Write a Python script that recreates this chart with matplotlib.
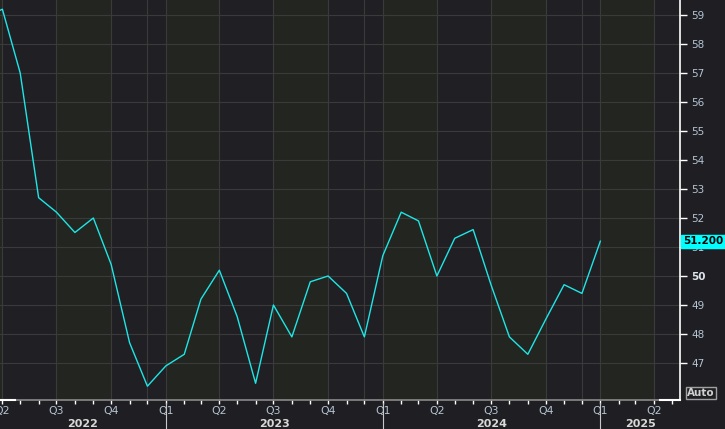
#!/usr/bin/env python3

import matplotlib
matplotlib.use("Agg")
import matplotlib.pyplot as plt
import matplotlib.dates as mdates
import matplotlib.transforms as mtransforms
from matplotlib.patches import Rectangle
import pandas as pd

# monthly readings, Mar 2022 .. Jan 2025
MONTHS = pd.date_range("2022-03-01", "2025-01-01", freq="MS")
VALUES = [58.9, 59.2, 57.0, 52.7, 52.2, 51.5, 52.0, 50.4, 47.7, 46.2,
          46.9, 47.3, 49.2, 50.2, 48.6, 46.3, 49.0, 47.9, 49.8, 50.0,
          49.4, 47.9, 50.7, 52.2, 51.9, 50.0, 51.3, 51.6, 49.7, 47.9,
          47.3, 48.5, 49.7, 49.4, 51.2]
LAST_LABEL = "51.200"
Y_TICKS = list(range(47, 60))
YEARS = [2022, 2023, 2024, 2025]

BG_DARK = "#201f23"
BG_GREEN = "#222520"
GRID = "#3a3a3a"
LINE = "#1ee6e6"
TICK_TXT = "#b4c4d4"

W, H = 725, 429
fig = plt.figure(figsize=(W / 100, H / 100), dpi=100)
fig.patch.set_facecolor("#1f1e22")
ax = fig.add_axes([0, 29 / H, 680 / W, 400 / H])
ax.set_facecolor(BG_DARK)

x0 = mdates.date2num(pd.Timestamp("2022-03-28"))
x1 = mdates.date2num(pd.Timestamp("2025-05-15"))

# quarter bands: Q1/Q3 greenish, Q2/Q4 dark
quarters = pd.date_range("2022-01-01", "2025-07-01", freq="QS")
for q, nq in zip(quarters[:-1], quarters[1:]):
    if q.quarter in (1, 3):
        ax.axvspan(mdates.date2num(q), mdates.date2num(nq), color=BG_GREEN, lw=0, zorder=0)

for v in Y_TICKS:
    ax.axhline(v, color=GRID, lw=0.8, zorder=1)
for q in quarters:
    ax.axvline(mdates.date2num(q), color=GRID, lw=0.8, zorder=1)
for y in YEARS[:-1]:
    ax.axvline(mdates.date2num(pd.Timestamp(f"{y}-12-01")), color=GRID, lw=0.8, zorder=1)

ax.plot(mdates.date2num(MONTHS), VALUES, color=LINE, lw=1.0, zorder=3)

# right axis
ax.yaxis.tick_right()
ax.set_yticks(Y_TICKS)
ax.set_yticklabels([str(v) for v in Y_TICKS])
ax.tick_params(axis="y", direction="out", length=5, width=1, colors="white",
               labelcolor=TICK_TXT, labelsize=7.5, pad=3)
for lab in ax.get_yticklabels():
    if lab.get_text() == "50":
        lab.set_fontweight("bold")
        lab.set_color("#dde4ec")

# bottom axis: quarters labelled, month ticks
ax.set_xticks([mdates.date2num(q) for q in quarters])
ax.set_xticklabels([f"Q{q.quarter}" for q in quarters])
ax.set_xticks(mdates.date2num(pd.date_range("2022-01-01", "2025-07-01", freq="MS")), minor=True)
ax.tick_params(axis="x", which="both", direction="out", length=3, width=1,
               colors="white", labelcolor=TICK_TXT, labelsize=7.8, pad=1)

# limits after the ticks, so they are not widened
ax.set_xlim(x0, x1)
ax.set_ylim(45.724, 59.517)

for side in ("top", "left"):
    ax.spines[side].set_visible(False)
ax.spines["right"].set_color("white")
ax.spines["bottom"].set_color("#8a8a8a")
ax.spines["right"].set_linewidth(1.2)
ax.spines["bottom"].set_linewidth(1.2)

tr = mtransforms.blended_transform_factory(ax.transData, ax.transAxes)
span = x1 - x0
ax.plot([x0, x0 + span * 15 / 680], [0, 0], color="white", lw=1.5,
        transform=tr, clip_on=False, zorder=5)
ax.plot([x0 + span * 660 / 680, x1], [0, 0], color="white", lw=1.5,
        transform=tr, clip_on=False, zorder=5)

# year separators and labels
for y in YEARS:
    start = mdates.date2num(pd.Timestamp(f"{y}-01-01"))
    end = mdates.date2num(pd.Timestamp(f"{y + 1}-01-01"))
    if x0 < start < x1:
        ax.plot([start, start], [-3 / 400, -29 / 400], color="#c8c8c8", lw=0.8,
                transform=tr, clip_on=False)
    mid = (max(start, x0) + min(end, x1)) / 2
    ax.text(mid, -24 / 400, str(y), transform=tr, ha="center", va="center",
            fontsize=8, fontweight="bold", color="#d8d8d8")

# last value box
trf = mtransforms.blended_transform_factory(fig.transFigure, ax.transData)
ax.add_patch(Rectangle((681 / W, VALUES[-1] - 6.5 / 29), 44 / W, 13 / 29,
                       transform=trf, color="#00ffff", clip_on=False, zorder=6))
ax.text(683 / W, VALUES[-1], LAST_LABEL, transform=trf, ha="left", va="center",
        fontsize=7.5, fontweight="bold", color="black", zorder=7, clip_on=False)

fig.text(701 / W, 1 - 393 / H, "Auto", ha="center", va="center", fontsize=7.5,
         fontweight="bold", color="#d0d0d0",
         bbox=dict(boxstyle="square,pad=0.12", fc="none", ec="#a0a0a0", lw=1))

fig.savefig("out.png", dpi=100, facecolor=fig.get_facecolor())
